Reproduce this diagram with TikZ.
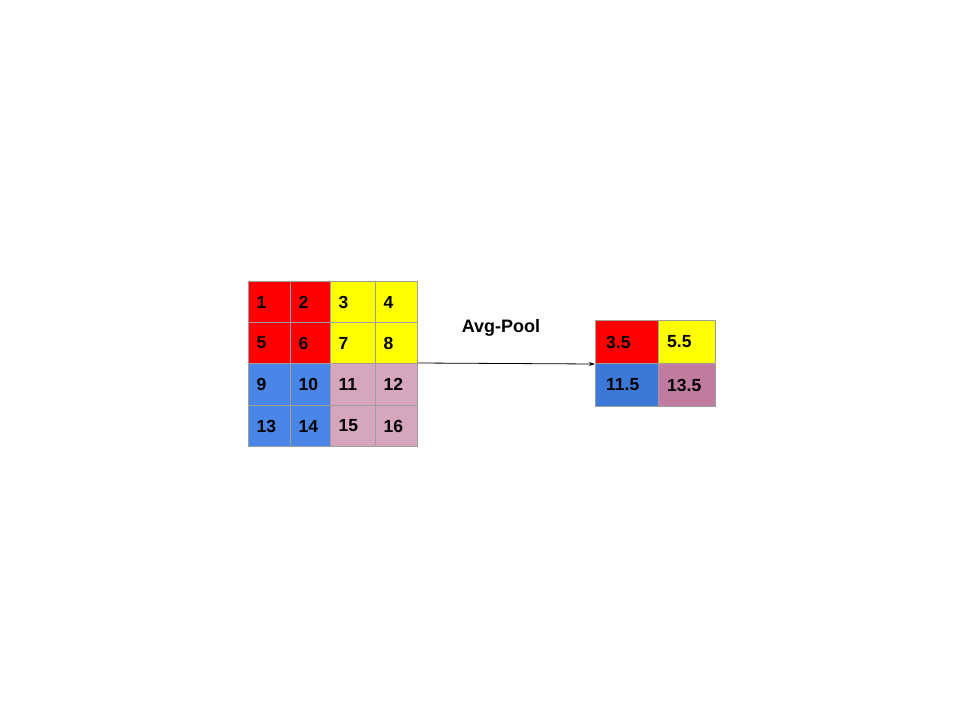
\documentclass[tikz,border=0pt]{standalone}
\usepackage{fontspec}
\setmainfont{Liberation Sans}
\usetikzlibrary{arrows.meta}
\definecolor{cred}{HTML}{FF0000}
\definecolor{cyel}{HTML}{FFFF00}
\definecolor{cblue}{HTML}{4A86E8}
\definecolor{cpink}{HTML}{D5A6BD}
\definecolor{cblueb}{HTML}{3C78D8}
\definecolor{cmauve}{HTML}{C27BA0}
\definecolor{cgrid}{HTML}{9E9E9E}
\tikzset{
  cell/.style={draw=cgrid, line width=1pt, anchor=north west, inner sep=0pt},
  num/.style={anchor=west, inner sep=0pt, font=\fontsize{17.5}{17.5}\selectfont\bfseries},
  lbl/.style={inner sep=0pt, font=\fontsize{18}{18}\selectfont\bfseries},
  conn/.style={line width=0.8pt, -{Stealth[length=6pt,width=4pt]}}
}
\begin{document}
\begin{tikzpicture}[x=1pt,y=-1pt]
\useasboundingbox (0,0) rectangle (960,720);
% left grid
\node[cell, fill=cred,  minimum width=42pt, minimum height=41pt] (c1)  at (248,281) {};
\node[cell, fill=cred,  minimum width=40pt, minimum height=41pt] (c2)  at (290,281) {};
\node[cell, fill=cyel,  minimum width=45pt, minimum height=41pt] (c3)  at (330,281) {};
\node[cell, fill=cyel,  minimum width=42pt, minimum height=41pt] (c4)  at (375,281) {};
\node[cell, fill=cred,  minimum width=42pt, minimum height=41pt] (c5)  at (248,322) {};
\node[cell, fill=cred,  minimum width=40pt, minimum height=41pt] (c6)  at (290,322) {};
\node[cell, fill=cyel,  minimum width=45pt, minimum height=41pt] (c7)  at (330,322) {};
\node[cell, fill=cyel,  minimum width=42pt, minimum height=41pt] (c8)  at (375,322) {};
\node[cell, fill=cblue, minimum width=42pt, minimum height=42pt] (c9)  at (248,363) {};
\node[cell, fill=cblue, minimum width=40pt, minimum height=42pt] (c10) at (290,363) {};
\node[cell, fill=cpink, minimum width=45pt, minimum height=42pt] (c11) at (330,363) {};
\node[cell, fill=cpink, minimum width=42pt, minimum height=42pt] (c12) at (375,363) {};
\node[cell, fill=cblue, minimum width=42pt, minimum height=41pt] (c13) at (248,405) {};
\node[cell, fill=cblue, minimum width=40pt, minimum height=41pt] (c14) at (290,405) {};
\node[cell, fill=cpink, minimum width=45pt, minimum height=41pt] (c15) at (330,405) {};
\node[cell, fill=cpink, minimum width=42pt, minimum height=41pt] (c16) at (375,405) {};
\foreach \i in {1,...,16}{
  \node[num] (t\i) at ([xshift=8.5pt]c\i.west) {\i};
}
% right grid
\node[cell, fill=cred,   minimum width=63pt, minimum height=43pt] (r1) at (595,320) {};
\node[cell, fill=cyel,   minimum width=57pt, minimum height=43pt] (r2) at (658,320) {};
\node[cell, fill=cblueb, minimum width=63pt, minimum height=43pt] (r3) at (595,363) {};
\node[cell, fill=cmauve, minimum width=57pt, minimum height=43pt] (r4) at (658,363) {};
\node[num] (s1) at ([xshift=11pt]r1.west) {3.5};
\node[num] (s2) at ([xshift=9pt]r2.west) {5.5};
\node[num] (s3) at ([xshift=11pt]r3.west) {11.5};
\node[num] (s4) at ([xshift=9pt]r4.west) {13.5};
% arrow and label
\coordinate (a0) at ([yshift=1pt]c8.south east);
\coordinate (a1) at ([yshift=-1pt]r3.north west);
\draw[conn] (a0) -- (a1);
\node[lbl] (lab) at (501,328) {Avg-Pool};
\end{tikzpicture}
\end{document}
